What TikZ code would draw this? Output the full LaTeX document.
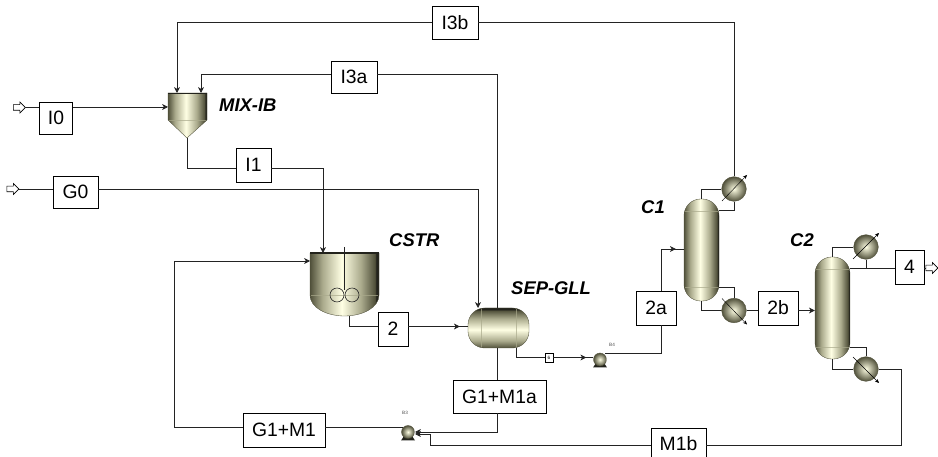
\documentclass[tikz,border=0pt]{standalone}
\usepackage{fontspec}
\setmainfont{Liberation Sans}
\usetikzlibrary{arrows.meta,calc,shapes,decorations.markings}
\definecolor{vdark}{RGB}{80,80,58}
\definecolor{vmid}{RGB}{170,170,140}
\definecolor{vlight}{RGB}{255,255,228}
\definecolor{vedge}{RGB}{35,35,28}
\definecolor{lne}{RGB}{35,35,35}
\pgfdeclarehorizontalshading{eqside}{100bp}{color(0bp)=(vdark); color(25bp)=(vdark); color(34bp)=(vmid); color(48bp)=(vlight); color(62bp)=(vmid); color(72bp)=(vdark); color(73bp)=(vedge); color(100bp)=(vedge)}

\begin{document}
\begin{tikzpicture}[x=.03cm,y=-.03cm,>={Stealth[length=5pt,width=5pt,inset=1.5pt]},
    stream/.style={draw=black,fill=white,line width=.6pt,inner sep=0pt,font=\fontsize{16.5}{16.5}\selectfont},
    vessel/.style={draw=vdark,shading=eqside,line width=.3pt,inner sep=0pt},
    column/.style={vessel,minimum width=1.05cm,minimum height=3.06cm,rounded corners=.5cm},
    hx/.style={circle,draw=vdark,inner color=vlight,outer color=vdark,line width=.3pt,inner sep=0pt,minimum size=.74cm},
    hxline/.style={-{Stealth[length=3.5pt,width=3pt]},line width=.35pt},
    pump/.style={circle,draw=vdark,inner color=vlight,outer color=vdark,line width=.3pt,inner sep=0pt,minimum size=.39cm},
    feet/.style={fill=vedge},
    band/.style={draw=vmid,line width=.25pt,opacity=.7},
    imp/.style={circle,draw=lne,line width=.5pt,minimum size=.42cm,inner sep=0pt},
    tag/.style={font=\fontsize{15.7}{15.7}\selectfont\bfseries\itshape,inner sep=0pt,anchor=west},
    small/.style={font=\fontsize{4}{4}\selectfont,text=black!70,inner sep=0pt},
    feed/.style={single arrow,draw=black,fill=white,line width=.5pt,inner sep=0pt,text height=.15cm,text depth=0pt,text width=0pt,minimum height=.36cm,single arrow head extend=.08cm,single arrow tip angle=90},
    tipback/.style={decoration={markings,mark=at position -#1 with {\arrow{>}}},postaction=decorate}]
    \useasboundingbox (0,0) rectangle (938,457);

    \node[stream,minimum width=1.38cm,minimum height=.99cm] (I3b) at (455,22.5) {I3b};
    \node[stream,minimum width=1.38cm,minimum height=.96cm] (I3a) at (354,77) {I3a};
    \node[stream,minimum width=1.0cm,minimum height=.96cm] (I0) at (56,118) {I0};
    \node[stream,minimum width=1.35cm,minimum height=.96cm] (G0) at (75.5,192) {G0};
    \node[stream,minimum width=1.05cm,minimum height=1.02cm] (I1) at (253.5,165) {I1};
    \node[stream,minimum width=.9cm,minimum height=1.02cm] (s2) at (393,329) {2};
    \node[stream,minimum width=2.79cm,minimum height=.99cm] (G1M1a) at (499.5,396.5) {G1+M1a};
    \node[stream,minimum width=2.46cm,minimum height=1.02cm] (G1M1) at (284,430) {G1+M1};
    \node[stream,minimum width=1.65cm,minimum height=.96cm] (M1b) at (678.5,444) {M1b};
    \node[stream,minimum width=1.2cm,minimum height=1.02cm] (s2a) at (656,308) {2a};
    \node[stream,minimum width=1.2cm,minimum height=1.02cm] (s2b) at (778,308) {2b};
    \node[stream,minimum width=.87cm,minimum height=1.02cm] (s4) at (909.5,267) {4};
    \node[stream,minimum width=.24cm,minimum height=.27cm,font=\fontsize{4}{4}\selectfont,line width=.3pt] (s6) at (549,357.5) {6};

    \node[feed] (feedI0) at (18,107.5) {};
    \node[feed] (feedG0) at (11.5,189) {};
    \node[feed] (out4) at (930.5,268) {};

    \draw[vessel] (168,93) -- (207,93) -- (207,120) -- (187,138) -- (168,120) -- cycle;
    \draw[band] (169,120) -- (206,120);
    \draw[vedge,line width=.8pt] (168,93) -- (207,93);
    \coordinate (mixW) at (168,107);
    \coordinate (mixA) at (177,93);
    \coordinate (mixB) at (201,93);
    \coordinate (mixS) at (187,138);
    \node[tag] (lmix) at (219,105) {MIX-IB};

    \draw[vessel] (310,253) -- (379,253) -- (379,295) .. controls (379,308) and (362,316) .. (344.5,316) .. controls (327,316) and (310,308) .. (310,295) -- cycle;
    \draw[band] (311,295) -- (378,295);
    \draw[vedge,line width=.9pt] (310,253) -- (379,253);
    \draw[lne,line width=.5pt] (344,247) -- (344,290);
    \node[imp] (imp1) at (337,295) {};
    \node[imp] (imp2) at (352,295) {};
    \coordinate (cstrN) at (323,253);
    \coordinate (cstrW) at (310,261);
    \coordinate (cstrS) at (349,316);
    \node[tag] (lcstr) at (389,240) {CSTR};

    \node[vessel,minimum width=1.83cm,minimum height=1.2cm,rounded corners=.5cm,shading angle=90] (sep) at (498.5,328) {};
    \draw[band] (481,309) -- (481,347) (516,309) -- (516,347);
    \coordinate (sepA) at (478,308);
    \coordinate (sepB) at (497,308);
    \coordinate (sepW) at (468,326.5);
    \coordinate (sepS) at (497,348);
    \coordinate (sepR) at (516,348);
    \node[tag] (lsep) at (511,288) {SEP-GLL};

    \node[column] (C1) at (701.5,250) {};
    \node[column] (C2) at (832.5,308) {};
    \draw[band] (685,211) -- (718,211) (685,287) -- (718,287);
    \draw[band] (816,269) -- (849,269) (816,347) -- (849,347);
    \node[tag] (lc1) at (641,207) {C1};
    \node[tag] (lc2) at (790,240) {C2};

    \node[hx] (cond1) at (734,189) {};
    \node[hx] (reb1) at (734,310.5) {};
    \node[hx] (cond2) at (866,247) {};
    \node[hx] (reb2) at (866,369) {};
    \draw[hxline] ($(cond1)+(-12,12)$) -- ($(cond1)+(13,-14)$);
    \draw[hxline] ($(reb1)+(-12,-12)$) -- ($(reb1)+(13,14)$);
    \draw[hxline] ($(cond2)+(-13,12)$) -- ($(cond2)+(13,-14)$);
    \draw[hxline] ($(reb2)+(-13,-12)$) -- ($(reb2)+(13,14)$);

    \fill[feet] (404,436) -- (412,436) -- (415,440.5) -- (401,440.5) -- cycle;
    \fill[feet] (596,363) -- (604,363) -- (607,367.5) -- (593,367.5) -- cycle;
    \node[pump] (B3) at (408,432) {};
    \node[pump] (B4) at (600,359.5) {};
    \node[small] (lb3) at (405,413) {B3};
    \node[small] (lb4) at (612,345) {B4};

    \coordinate (B3W) at (403,427);
    \coordinate (B3E) at (415,432);
    \coordinate (B3R) at (415,434);
    \coordinate (B4N) at (605,353);
    \coordinate (s2aS) at (661,325);
    \coordinate (s2aN) at (661,291);
    \coordinate (C1feed) at (684,249);
    \coordinate (C2top) at (850,268.5);

    \begin{scope}[line width=.65pt,draw=lne]
        \draw (mixS) |- (I1.west |- 0,168);
        \draw[->] (I3b.west) -| (mixA);
        \draw[->] (I3a.west |- 0,74) -| (mixB);
        \draw (feedI0.east) -- (feedI0.east -| I0.west);
        \draw[->] (I0.east |- mixW) -- (mixW);
        \draw (feedG0.east) -- (feedG0.east -| G0.west);
        \draw[->] (G0.east |- feedG0.east) -| (sepA);
        \draw[->] (I1.east |- 0,168) -| (cstrN);
        \draw (I3a.east |- 0,74) -| (sepB);
        \draw (cstrS) |- (s2.west |- sepW);
        \draw[tipback=7pt] (s2.east |- sepW) -- (sepW);
        \draw (sepS) -- (sepS |- G1M1a.north);
        \draw (sepR) |- (s6.west);
        \draw[tipback=6pt] (s6.east) -- (B4.west |- s6.east);
        \draw (B4N) -| (s2aS);
        \draw[tipback=7pt] (s2aN) |- (C1feed);
        \draw (C1.north) |- (cond1.west);
        \draw (cond1.south) |- (C1.east |- 0,210);
        \draw (cond1.north) |- (I3b.east);
        \draw (C1.south) |- (reb1.west);
        \draw (reb1.north) |- (C1.east |- 0,287);
        \draw (reb1.east) -- (s2b.west |- reb1.east);
        \draw[->] (s2b.east |- reb1.east) -- (C2.west |- reb1.east);
        \draw (C2.north) |- (cond2.west);
        \draw (cond2.south) -- (cond2.south |- C2top);
        \draw (C2top) -- (s4.west |- C2top);
        \draw (s4.east |- out4.west) -- (out4.west);
        \draw (C2.south) |- (reb2.west);
        \draw (reb2.north) |- (C2.east |- 0,347);
        \draw (reb2.east) -| (901,445) -- (M1b.east |- 0,445);
        \draw[->] (sepS |- G1M1a.south) |- (B3E);
        \draw[->] (M1b.west |- 0,445) -| (430,434) -- (B3R);
        \draw (B3W) -- (G1M1.east |- B3W);
        \draw[->] (G1M1.west |- B3W) -| (174,261) -- (cstrW);
    \end{scope}
\end{tikzpicture}
\end{document}
